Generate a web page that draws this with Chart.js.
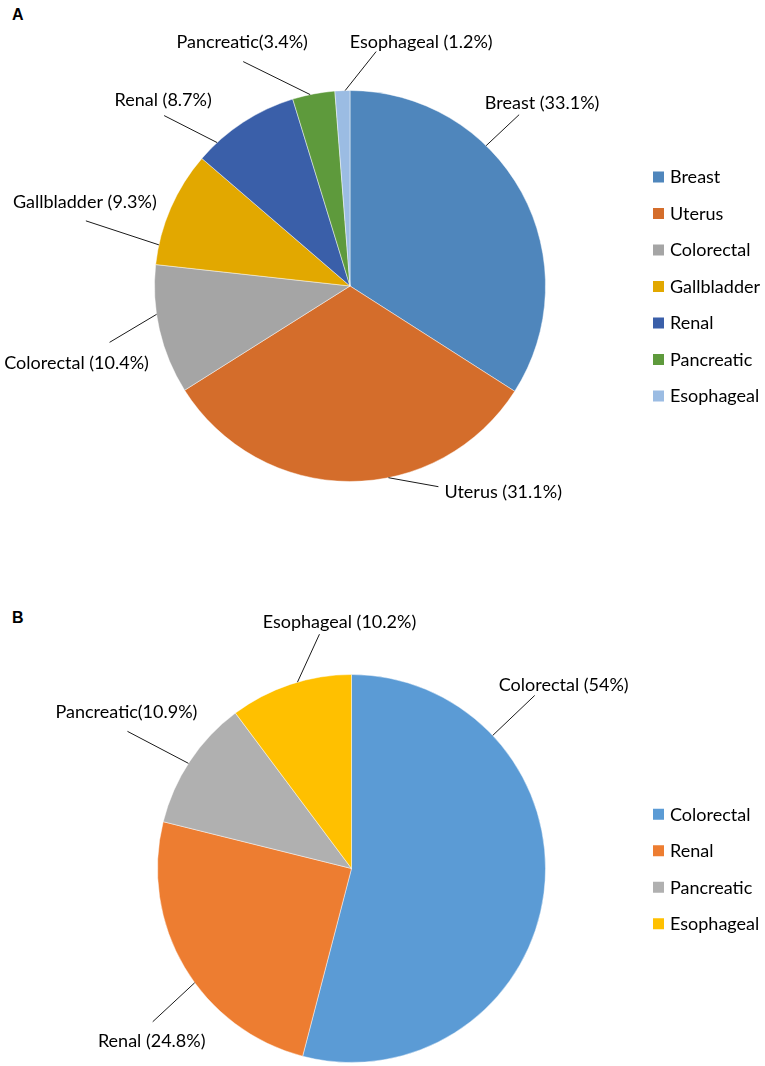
<!DOCTYPE html>
<html>
<head>
<meta charset="utf-8">
<script src="https://cdn.jsdelivr.net/npm/chart.js@4.4.1/dist/chart.umd.min.js"></script>
<style>
  html, body { margin: 0; padding: 0; background: #fff; }
  #page { position: relative; width: 765px; height: 1066px; overflow: hidden; }
  .panel { position: absolute; left: 0; }
  .tag { position: absolute; font: bold 16px "Liberation Sans", Arial, sans-serif; color: #000; }
</style>
</head>
<body>
<div id="page">
  <div class="tag" style="left:12px; top:6px;">A</div>
  <div class="tag" style="left:12px; top:609px;">B</div>
  <div class="panel" style="top:0;"><canvas id="chartA" width="765" height="560"></canvas></div>
  <div class="panel" style="top:560px;"><canvas id="chartB" width="765" height="506"></canvas></div>
</div>
<script>
// Panel A data
var catsA = ["Breast", "Uterus", "Colorectal", "Gallbladder", "Renal", "Pancreatic", "Esophageal"];
var pctA = [33.1, 31.1, 10.4, 9.3, 8.7, 3.4, 1.2];
var textA = ["Breast (33.1%)", "Uterus (31.1%)", "Colorectal (10.4%)", "Gallbladder (9.3%)", "Renal (8.7%)", "Pancreatic(3.4%)", "Esophageal (1.2%)"];
var colorsA = ["#4f86bc", "#d46d2b", "#a5a5a5", "#e2a800", "#3a5fa9", "#5e9a3c", "#9bbce3"];

// Panel B data
var catsB = ["Colorectal", "Renal", "Pancreatic", "Esophageal"];
var pctB = [54, 24.8, 10.9, 10.2];
var textB = ["Colorectal (54%)", "Renal (24.8%)", "Pancreatic(10.9%)", "Esophageal (10.2%)"];
var colorsB = ["#5b9bd5", "#ed7d31", "#b0b0b0", "#ffc000"];

// where each leader line touches its slice (fraction of the slice's sweep)
// and how far the line / text sit from that point
var calloutA = [
    { f: 0.36, line: [33, -31], text: [56, -42] },
    { f: 0.40, line: [50, 9], text: [56, 14], align: "left" },
    { f: 0.62, line: [-47, 28], text: [-80, 49] },
    { f: 0.17, line: [-73, -24], text: [-74, -43] },
    { f: 0.20, line: [-53, -27], text: [-54, -42] },
    { f: 0.42, line: [-67, -33], text: [-68, -52] },
    { f: 0.68, line: [31, -39], text: [76, -48] }
];
var calloutB = [
    { f: 0.24, line: [42, -40], text: [71, -50] },
    { f: 0.44, line: [-42, 39], text: [-43, 58] },
    { f: 0.48, line: [-61, -32], text: [-62, -51] },
    { f: 0.56, line: [22, -48], text: [42, -60] }
];

var FONT = '18px Lato, "Noto Sans", sans-serif';

// leader lines + labels outside the pie
var calloutPlugin = {
    id: 'callouts',
    afterDatasetsDraw: function (chart, args, opts) {
        var ctx = chart.ctx;
        var arcs = chart.getDatasetMeta(0).data;
        ctx.save();
        ctx.font = FONT;
        ctx.fillStyle = '#000';
        ctx.strokeStyle = '#1a1a1a';
        ctx.lineWidth = 1;
        ctx.textBaseline = 'middle';
        arcs.forEach(function (arc, i) {
            var c = opts.layout[i];
            var p = arc.getProps(['x', 'y', 'startAngle', 'endAngle', 'outerRadius'], true);
            var a = p.startAngle + c.f * (p.endAngle - p.startAngle);
            var ax = p.x + p.outerRadius * Math.cos(a);
            var ay = p.y + p.outerRadius * Math.sin(a);
            ctx.beginPath();
            ctx.moveTo(ax, ay);
            ctx.lineTo(ax + c.line[0], ay + c.line[1]);
            ctx.stroke();
            ctx.textAlign = c.align || 'center';
            ctx.fillText(opts.texts[i], ax + c.text[0], ay + c.text[1]);
        });
        ctx.restore();
    }
};

// legend column on the right, centred on the pie
var sideLegend = {
    id: 'sideLegend',
    afterDraw: function (chart, args, opts) {
        var ctx = chart.ctx;
        var labels = chart.data.labels;
        var colors = chart.data.datasets[0].backgroundColor;
        var cy = (chart.chartArea.top + chart.chartArea.bottom) / 2;
        var y0 = cy - (labels.length - 1) * opts.gap / 2;
        ctx.save();
        ctx.font = FONT;
        ctx.textAlign = 'left';
        ctx.textBaseline = 'middle';
        labels.forEach(function (lab, i) {
            var y = y0 + i * opts.gap;
            ctx.fillStyle = colors[i];
            ctx.fillRect(opts.x, y - 5, 11, 11);
            ctx.fillStyle = '#000';
            ctx.fillText(lab, opts.x + 17, y + 1);
        });
        ctx.restore();
    }
};

function makePie(id, cats, values, colors, texts, layout, pad) {
    var ctx = document.getElementById(id).getContext('2d');
    return new Chart(ctx, {
        type: 'pie',
        data: {
            labels: cats,
            datasets: [{
                data: values,
                backgroundColor: colors,
                borderColor: 'rgba(255,255,255,0.45)',
                borderWidth: 1
            }]
        },
        options: {
            responsive: false,
            animation: false,
            layout: { padding: pad },
            plugins: {
                legend: { display: false },
                tooltip: { enabled: false },
                callouts: { texts: texts, layout: layout },
                sideLegend: { x: 653, gap: 36.5 }
            }
        },
        plugins: [calloutPlugin, sideLegend]
    });
}

makePie('chartA', catsA, pctA, colorsA, textA, calloutA, { left: 154, top: 90, right: 219, bottom: 78 });
makePie('chartB', catsB, pctB, colorsB, textB, calloutB, { left: 157, top: 114, right: 219, bottom: 3 });
</script>
</body>
</html>
